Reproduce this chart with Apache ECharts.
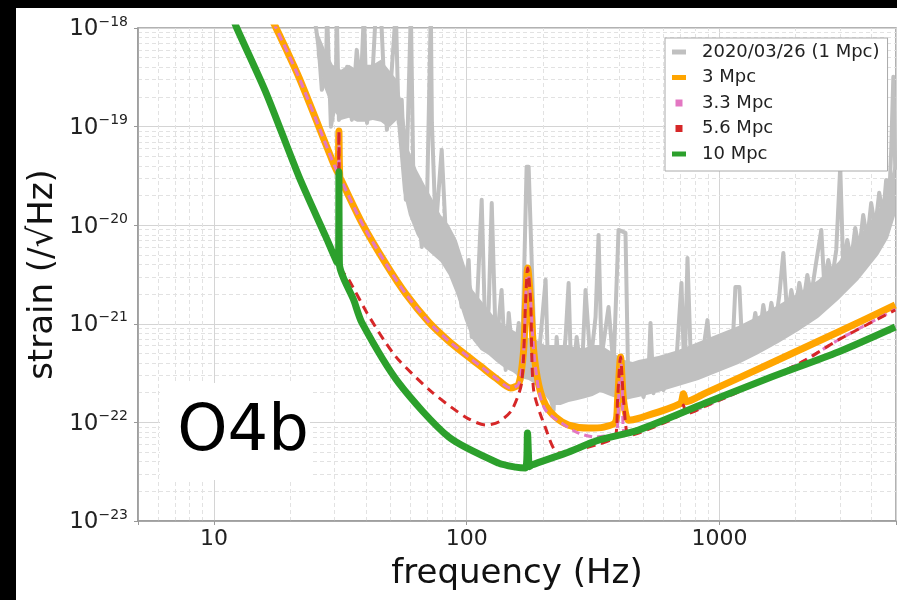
<!DOCTYPE html>
<html>
<head>
<meta charset="utf-8">
<script src="https://cdn.jsdelivr.net/npm/echarts@6/dist/echarts.min.js"></script>
<style>
html, body { margin: 0; padding: 0; background: #000; width: 897px; height: 600px; overflow: hidden; }
#content { position: absolute; left: 16px; top: 8px; width: 881px; height: 592px; background: #fff; }
</style>
</head>
<body>
<div id="content"></div>
<script>
// [frequency Hz, strain /rtHz]
// 2020/03/26 spectrum: peaks and dips of the noisy trace
var gray = [
  [24.8, 1.5e-18], [26.0, 6.0e-19], [26.7, 2.36e-19], [27.7, 2.99e-19], [28.0, 1.5e-18],
  [29.0, 9.96e-20], [30.3, 1.87e-19], [30.6, 1.5e-18], [31.2, 1.17e-19], [32.0, 1.48e-19],
  [33.6, 4.05e-19], [35.1, 1.17e-19], [36.7, 6.0e-19], [38.1, 2.54e-19], [39.2, 1.5e-18],
  [40.3, 1.09e-19], [42.2, 2.79e-19], [43.7, 1.5e-18], [45.7, 1.5e-18], [47.0, 3.2e-19],
  [48.3, 9.29e-20], [50.1, 2.79e-19], [52.4, 1.5e-18], [53.8, 1.09e-19], [55.3, 1.87e-19],
  [57.4, 1.81e-20], [60.1, 1.5e-18], [61.8, 1.21e-20], [63.4, 2.13e-20], [66.4, 6.01e-21],
  [69.5, 1.33e-20], [72.1, 1.5e-18], [72.8, 1.09e-19], [75.4, 8.95e-21], [79.6, 5.82e-20],
  [82.6, 8.35e-21], [84.9, 6.61e-21], [87.3, 3.27e-21], [90.6, 4.76e-21], [93.0, 2.59e-21],
  [95.5, 1.48e-21], [99.1, 2.98e-21], [101.8, 4.44e-21], [104.6, 7.34e-22], [109.6, 1.38e-21],
  [114.6, 1.81e-20], [118.9, 5.42e-22], [122.2, 1.48e-21], [125.6, 1.68e-20], [130.3, 6.38e-22],
  [133.7, 1.02e-21], [137.4, 2.20e-21], [142.6, 3.40e-22], [146.6, 1.29e-21], [153.5, 3.64e-22],
  [160.6, 1.02e-21], [164.9, 2.69e-22], [172.6, 3.91e-20], [175.8, 3.91e-20], [187.4, 2.51e-22],
  [196.0, 7.34e-22], [205.2, 2.79e-21], [210.9, 2.13e-22], [220.7, 1.33e-22], [226.9, 7.34e-22],
  [235.5, 2.13e-22], [246.2, 7.34e-22], [253.1, 2.59e-21], [260.2, 1.98e-22], [272.3, 7.34e-22],
  [285.0, 2.88e-22], [295.3, 2.20e-21], [309.1, 4.00e-22], [323.5, 1.17e-21], [332.5, 7.97e-21],
  [341.8, 4.60e-22], [364.1, 1.48e-21], [381.1, 3.64e-22], [398.9, 8.95e-21], [425.0, 8.35e-21],
  [436.9, 1.81e-22], [457.3, 2.88e-22], [478.6, 2.69e-22], [500.8, 1.81e-22], [524.0, 3.02e-22],
  [533.8, 1.02e-21], [548.5, 1.98e-22], [574.1, 3.64e-22], [600.8, 2.13e-22], [628.8, 3.82e-22],
  [645.9, 2.39e-22], [676.1, 4.29e-22], [707.9, 2.60e-21], [727.3, 2.69e-22], [747.7, 4.66e-21],
  [774.6, 2.88e-22], [803.9, 5.42e-22], [833.8, 3.24e-22], [864.8, 5.68e-22], [897.0, 1.09e-21],
  [930.0, 3.82e-22], [964.8, 6.53e-22], [1000, 4.10e-22], [1056, 7.69e-22], [1095, 4.71e-22],
  [1136, 8.65e-22], [1157, 2.36e-21], [1200, 2.36e-21], [1233, 5.42e-22], [1279, 9.72e-22],
  [1327, 6.09e-22], [1387, 1.29e-21], [1439, 7.17e-22], [1492, 1.55e-21], [1548, 8.65e-22],
  [1606, 1.63e-21], [1665, 9.72e-22], [1727, 1.96e-21], [1791, 5.23e-21], [1857, 1.15e-21],
  [1926, 2.20e-21], [1998, 1.38e-21], [2072, 2.60e-21], [2148, 1.63e-21], [2228, 3.13e-21],
  [2310, 1.96e-21], [2396, 3.68e-21], [2531, 8.96e-21], [2600, 2.48e-21], [2697, 4.44e-21],
  [2796, 2.92e-21], [2901, 5.61e-21], [3008, 3.91e-20], [3092, 3.68e-21], [3207, 7.09e-21],
  [3325, 4.44e-21], [3448, 9.39e-21], [3576, 5.61e-21], [3709, 1.27e-20], [3846, 7.09e-21],
  [3988, 1.68e-20], [4136, 9.39e-21], [4290, 2.13e-20], [4449, 1.27e-20], [4571, 2.88e-20],
  [4698, 1.81e-20], [4786, 5.81e-20], [4880, 3.20e-19], [4966, 3.64e-20]
];

// dense core of the noisy trace: top and bottom edge
var grayBandFreq = [
  25.5, 27.5, 29.5, 31.8, 34.2, 36.8, 39.5, 42.5, 45.7, 49.2, 52.9, 55.9, 59.0, 63.4, 68.2,
  73.4, 78.9, 84.9, 91.3, 98.2, 105.6, 113.6, 122.2, 131.4, 141.3, 152.0, 163.5, 175.8, 189.1,
  203.4, 218.8, 235.3, 253.1, 272.2, 292.8, 314.8, 338.6, 364.2, 391.7, 421.3, 453.2, 478.6,
  574.1, 688.5, 826.1, 990.9, 1189, 1427, 1711, 2053, 2462, 2954, 3544, 4251, 4656, 4966
];
var grayBandUpper = [
  9.6e-19, 6.02e-19, 4.24e-19, 3.77e-19, 4.24e-19, 3.77e-19, 4.24e-19, 4.24e-19, 4.77e-19, 3.77e-19,
  2.99e-19, 1.48e-19, 5.81e-20, 3.64e-20, 2.56e-20, 1.81e-20, 1.27e-20, 1.01e-20, 7.09e-21, 3.95e-21,
  2.20e-21, 1.74e-21, 1.38e-21, 1.09e-21, 9.72e-22, 8.65e-22, 7.69e-22, 7.17e-22, 6.85e-22, 6.09e-22,
  6.09e-22, 6.09e-22, 6.09e-22, 5.68e-22, 5.68e-22, 6.09e-22, 6.09e-22, 5.42e-22, 4.82e-22, 4.29e-22,
  4.10e-22, 4.29e-22, 4.71e-22, 5.42e-22, 6.53e-22, 7.88e-22, 9.50e-22, 1.20e-21, 1.55e-21, 2.05e-21,
  2.78e-21, 4.24e-21, 7.43e-21, 1.43e-20, 2.28e-20, 4.60e-20
];
var grayBandLower = [
  5.36e-19, 2.36e-19, 1.48e-19, 1.17e-19, 1.23e-19, 1.12e-19, 1.12e-19, 1.17e-19, 1.12e-19, 9.72e-20,
  1.17e-19, 2.28e-20, 1.27e-20, 7.97e-21, 5.88e-21, 4.99e-21, 4.24e-21, 3.13e-21, 1.96e-21, 1.09e-21,
  6.85e-22, 5.42e-22, 4.82e-22, 4.10e-22, 3.56e-22, 3.24e-22, 2.82e-22, 2.69e-22, 2.39e-22, 1.89e-22,
  1.50e-22, 1.50e-22, 1.61e-22, 1.68e-22, 1.76e-22, 1.85e-22, 2.03e-22, 1.89e-22, 1.76e-22, 1.68e-22,
  1.76e-22, 1.81e-22, 2.03e-22, 2.34e-22, 2.69e-22, 3.24e-22, 3.91e-22, 4.94e-22, 6.38e-22, 8.45e-22,
  1.15e-21, 1.74e-21, 2.78e-21, 4.99e-21, 7.43e-21, 1.27e-20
];

var mpc3 = [
  [16.2, 1.53e-18], [17.6, 1.0e-18], [21.7, 3.13e-19], [29.3, 4.60e-20], [30.6, 3.56e-20],
  [30.95, 3.4e-20], [31.2, 9.0e-20], [31.45, 3.1e-20], [32.1, 2.75e-20], [38.5, 1.05e-20],
  [47.9, 4.05e-21], [57.4, 2.01e-21], [70.8, 1.04e-21], [84.9, 6.69e-22], [101.8, 4.60e-22],
  [114.6, 3.64e-22], [130.3, 2.82e-22], [149.2, 2.23e-22], [160.6, 2.45e-22], [168.0, 5.42e-22],
  [171.1, 1.74e-21], [174.2, 3.68e-21], [179.0, 1.74e-21], [184.0, 5.42e-22], [192.8, 2.39e-22],
  [205.2, 1.50e-22], [224.8, 1.13e-22], [253.1, 9.39e-23], [303.6, 8.75e-23], [348.5, 8.96e-23],
  [388.3, 1.01e-22], [395.3, 1.68e-22], [406.3, 4.60e-22], [417.5, 1.68e-22], [436.9, 1.05e-22],
  [478.6, 1.10e-22], [700, 1.55e-22], [720.8, 1.95e-22], [740, 1.62e-22], [880.6, 1.98e-22],
  [1606, 4.00e-22], [2954, 8.26e-22], [4966, 1.55e-21]
];

var mpc33 = [
  [16.2, 1.53e-18], [17.6, 1.0e-18], [21.7, 3.13e-19], [29.3, 4.60e-20], [30.6, 3.56e-20],
  [30.95, 3.4e-20], [31.2, 9.0e-20], [31.45, 3.1e-20], [32.1, 2.75e-20], [38.5, 1.05e-20],
  [47.9, 4.05e-21], [57.4, 2.01e-21], [70.8, 1.04e-21], [84.9, 6.69e-22], [101.8, 4.60e-22],
  [114.6, 3.64e-22], [130.3, 2.82e-22], [149.2, 2.23e-22], [160.6, 2.45e-22], [168.0, 5.42e-22],
  [171.1, 1.74e-21], [174.2, 3.68e-21], [179.0, 1.74e-21], [184.0, 5.42e-22], [192.8, 2.13e-22],
  [205.2, 1.33e-22], [237.3, 9.84e-23], [277.3, 7.78e-23], [323.5, 7.10e-23], [374.0, 7.43e-23],
  [392, 7.6e-23], [400, 2.0e-22], [406.3, 4.6e-22], [413, 2.0e-22], [420, 7.8e-23],
  [478.6, 8.0e-23], [700, 1.19e-22], [880.6, 1.46e-22], [1606, 2.88e-22], [2188, 4.28e-22],
  [2954, 6.86e-22], [4966, 1.40e-21]
];

var mpc56 = [
  [11.7, 1.39e-18], [12.3, 1.0e-18], [16.06, 2.2e-19], [21.7, 3.09e-20], [27.7, 7.6e-21],
  [30.6, 4.24e-21], [30.95, 4.1e-21], [31.2, 9.0e-20], [31.45, 3.9e-21], [34.2, 2.78e-21],
  [40.3, 1.29e-21], [47.0, 6.85e-22], [53.8, 4.29e-22], [72.8, 2.03e-22], [99.1, 1.13e-22],
  [118.9, 9.39e-23], [133.7, 1.01e-22], [150.7, 1.33e-22], [164.9, 2.51e-22], [171.1, 1.74e-21],
  [174.2, 3.68e-21], [179.0, 1.74e-21], [184.0, 2.13e-22], [205.2, 8.75e-23], [231, 4.88e-23],
  [332.5, 6.02e-23], [388.3, 7.26e-23], [395.3, 1.68e-22], [406.3, 4.6e-22], [417.5, 1.68e-22],
  [436.9, 7.3e-23], [478.6, 7.78e-23], [700, 1.19e-22], [720.8, 1.5e-22], [740, 1.22e-22],
  [880.6, 1.46e-22], [1606, 2.88e-22], [2188, 4.28e-22], [2954, 6.86e-22], [4966, 1.38e-21]
];

var mpc10 = [
  [11.7, 1.39e-18], [12.3, 1.0e-18], [16.06, 2.2e-19], [21.7, 3.09e-20], [27.7, 7.6e-21],
  [30.6, 4.24e-21], [31.05, 4.1e-21], [31.2, 3.48e-20], [31.35, 4.0e-21], [35.7, 1.74e-21],
  [38.5, 1.02e-21], [53.8, 2.51e-22], [84.9, 7.10e-23], [133.7, 3.86e-23], [156.2, 3.52e-23],
  [171, 3.45e-23], [174, 7.8e-23], [177, 3.55e-23], [180.7, 3.69e-23], [246.2, 4.88e-23],
  [332.5, 6.61e-23], [478.6, 8.35e-23], [880.6, 1.57e-22], [1606, 2.88e-22], [2954, 5.17e-22],
  [4966, 9.27e-22]
];

var seriesNames = ["2020/03/26 (1 Mpc)", "3 Mpc", "3.3 Mpc", "5.6 Mpc", "10 Mpc"];

// minor grid lines (2..9 of each decade)
var xMinor = [6, 7, 8, 9, 20, 30, 40, 50, 60, 70, 80, 90, 200, 300, 400, 500, 600, 700, 800, 900, 2000, 3000, 4000];
var yMinor = [
  2e-23, 3e-23, 4e-23, 5e-23, 6e-23, 7e-23, 8e-23, 9e-23,
  2e-22, 3e-22, 4e-22, 5e-22, 6e-22, 7e-22, 8e-22, 9e-22,
  2e-21, 3e-21, 4e-21, 5e-21, 6e-21, 7e-21, 8e-21, 9e-21,
  2e-20, 3e-20, 4e-20, 5e-20, 6e-20, 7e-20, 8e-20, 9e-20,
  2e-19, 3e-19, 4e-19, 5e-19, 6e-19, 7e-19, 8e-19, 9e-19
];

var FONT = "DejaVu Sans";
var wideIcon = "path://M0,0M14,7M0,1h14v5h-14z";
var squareIcon = "path://M0,0M14,7M3.5,0h7v7h-7z";

var chartDom = document.getElementById("content");
var myChart = echarts.init(chartDom);

var minorLines = xMinor.map(function (v) { return { xAxis: v }; })
  .concat(yMinor.map(function (v) { return { yAxis: v }; }));

// only label whole decades
function isDecade(v) {
  var e = Math.log10(v);
  return Math.abs(e - Math.round(e)) < 1e-3;
}

var option = {
  animation: false,
  backgroundColor: "#fff",
  grid: {
    left: 122,
    top: 20,
    right: 1,
    bottom: 79,
    containLabel: false,
    outerBoundsMode: "none",
    show: true,
    borderColor: "#999",
    borderWidth: 1.5,
  },
  xAxis: {
    type: "log",
    logBase: 10,
    min: 5,
    max: 5000,
    name: "frequency (Hz)",
    nameLocation: "middle",
    nameGap: 36,
    nameMoveOverlap: false,
    nameTextStyle: { fontFamily: FONT, fontSize: 34, color: "#111" },
    axisLine: { show: true, lineStyle: { color: "#999", width: 1.5 } },
    axisTick: { show: true, length: 4, lineStyle: { color: "#999" } },
    axisLabel: {
      margin: 7,
      fontFamily: FONT,
      fontSize: 22,
      color: "#222",
      formatter: function (v) {
        return isDecade(v) ? String(Math.round(v)) : "";
      },
    },
    splitLine: { show: true, lineStyle: { color: "#d4d4d4", width: 1 } },
  },
  yAxis: {
    type: "log",
    logBase: 10,
    min: 0.9999e-23,
    max: 1e-18,
    name: "strain (/√Hz)",
    nameLocation: "middle",
    nameGap: 78,
    nameMoveOverlap: false,
    nameTextStyle: { fontFamily: FONT, fontSize: 34, color: "#111" },
    axisLine: { show: true, lineStyle: { color: "#999", width: 1.5 } },
    axisTick: { show: true, length: 4, lineStyle: { color: "#999" } },
    axisLabel: {
      margin: 10,
      showMinLabel: true,
      showMaxLabel: true,
      hideOverlap: false,
      formatter: function (v) {
        var e = Math.round(Math.log10(v));
        return "{b|10}{s|−" + Math.abs(e) + "}";
      },
      rich: {
        b: { fontFamily: FONT, fontSize: 23, color: "#222", lineHeight: 26, verticalAlign: "bottom" },
        s: { fontFamily: FONT, fontSize: 14, color: "#222", lineHeight: 14, verticalAlign: "top" },
      },
    },
    splitLine: { show: true, lineStyle: { color: "#d4d4d4", width: 1 } },
  },
  legend: {
    orient: "vertical",
    left: 649,
    top: 30,
    padding: [5, 8, 8, 7],
    backgroundColor: "#fff",
    borderColor: "#aaa",
    borderWidth: 1,
    itemWidth: 14,
    itemHeight: 7,
    itemGap: 7.5,
    selectedMode: false,
    formatter: function (name) { return "{a|" + name + "}"; },
    textStyle: {
      fontFamily: FONT,
      fontSize: 18,
      color: "#222",
      rich: { a: { fontFamily: FONT, fontSize: 18, color: "#222", lineHeight: 18, padding: [0, 0, 0, 11] } },
    },
    data: [
      { name: seriesNames[0], icon: wideIcon },
      { name: seriesNames[1], icon: wideIcon },
      { name: seriesNames[2], icon: squareIcon },
      { name: seriesNames[3], icon: squareIcon },
      { name: seriesNames[4], icon: wideIcon },
    ],
  },
  graphic: [
    {
      type: "rect",
      left: 144,
      top: 375,
      z: 1,
      silent: true,
      shape: { width: 150, height: 97 },
      style: { fill: "#fff" },
    },
    {
      type: "text",
      x: 227,
      y: 425,
      z: 1,
      silent: true,
      style: {
        text: "O4b",
        fontFamily: FONT,
        fontSize: 64,
        fill: "#000",
        align: "center",
        verticalAlign: "middle",
        textAlign: "center",
        textVerticalAlign: "middle",
      },
    },
  ],
  series: [
    {
      // filled core of the 2020/03/26 trace
      type: "custom",
      silent: true,
      z: 2,
      data: [[100, 1e-21]],
      renderItem: function (params, api) {
        var pts = [];
        for (var i = 0; i < grayBandFreq.length; i++) {
          pts.push(api.coord([grayBandFreq[i], grayBandUpper[i]]));
        }
        for (var j = grayBandFreq.length - 1; j >= 0; j--) {
          pts.push(api.coord([grayBandFreq[j], grayBandLower[j]]));
        }
        return { type: "polygon", shape: { points: pts }, style: { fill: "#c0c0c0" } };
      },
      markLine: {
        z: 0,
        silent: true,
        precision: -1,
        symbol: ["none", "none"],
        label: { show: false },
        emphasis: { disabled: true },
        lineStyle: { color: "#e2e2e2", type: [4, 3], width: 1 },
        data: minorLines,
      },
    },
    {
      name: seriesNames[0],
      type: "line",
      data: gray,
      showSymbol: false,
      z: 2,
      color: "#c0c0c0",
      lineStyle: { color: "#c0c0c0", width: 4, join: "round" },
    },
    {
      name: seriesNames[1],
      type: "line",
      data: mpc3,
      showSymbol: false,
      smooth: 0.25,
      z: 3,
      color: "#ffa500",
      lineStyle: { color: "#ffa500", width: 7, join: "round" },
    },
    {
      name: seriesNames[2],
      type: "line",
      data: mpc33,
      showSymbol: false,
      smooth: 0.25,
      z: 4,
      color: "#e377c2",
      lineStyle: { color: "#e377c2", width: 3, type: [8, 5] },
    },
    {
      name: seriesNames[3],
      type: "line",
      data: mpc56,
      showSymbol: false,
      smooth: 0.25,
      z: 5,
      color: "#d62728",
      lineStyle: { color: "#d62728", width: 3, type: [9, 6] },
    },
    {
      name: seriesNames[4],
      type: "line",
      data: mpc10,
      showSymbol: false,
      smooth: 0.25,
      z: 6,
      color: "#2ca02c",
      lineStyle: { color: "#2ca02c", width: 7, join: "round" },
    },
  ],
};
myChart.setOption(option);
</script>
</body>
</html>
